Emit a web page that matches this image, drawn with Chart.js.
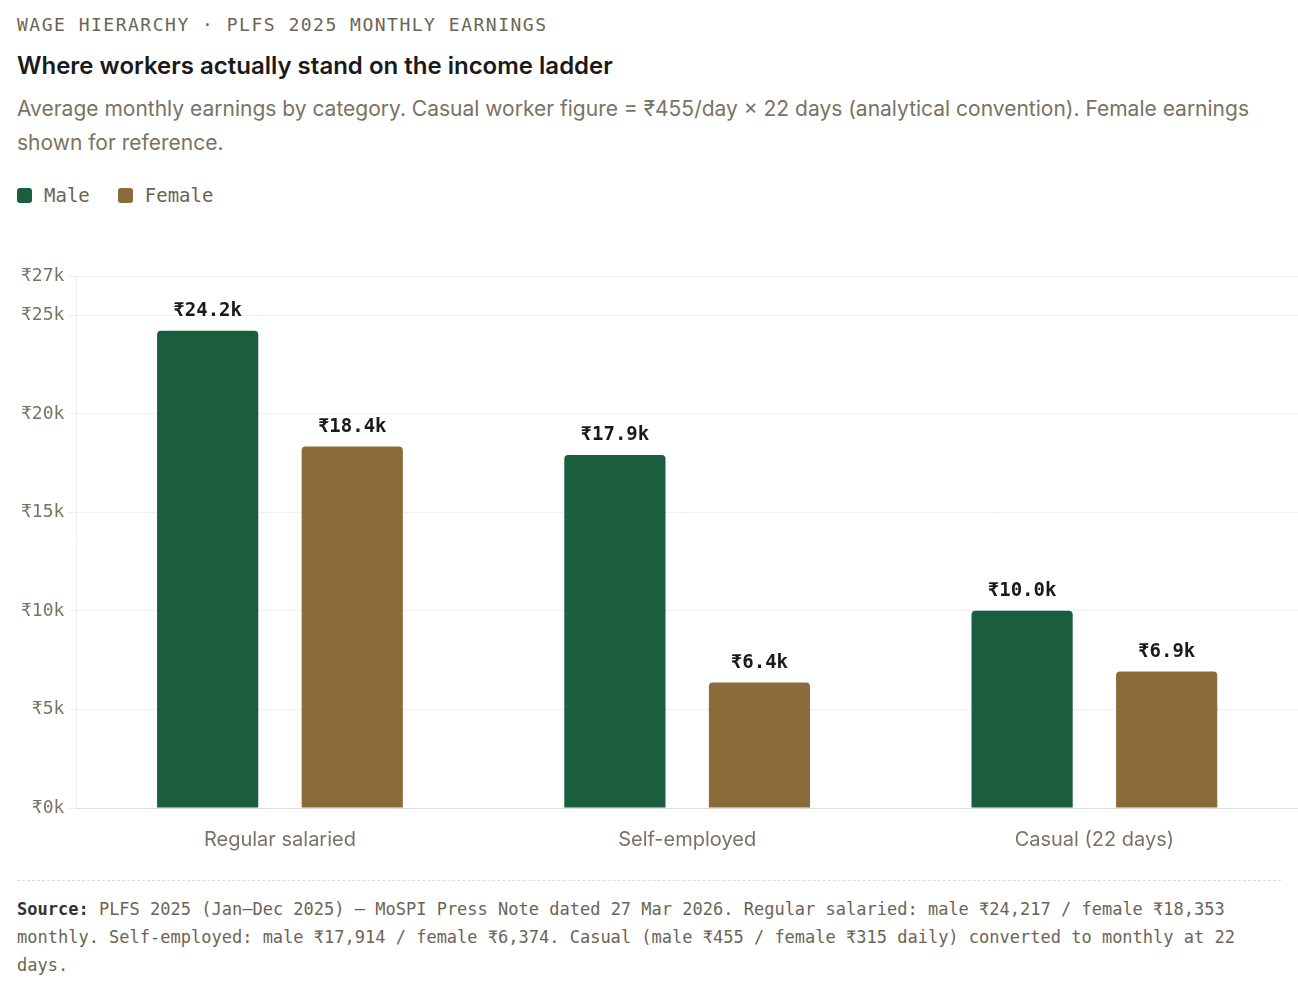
<!DOCTYPE html>
<html><head><meta charset="utf-8">
<script src="https://cdn.jsdelivr.net/npm/chart.js@4"></script>
<style>
body{margin:0;background:#fff;font-family:Inter,"Noto Sans",sans-serif;}
.wrap{padding:14px 17px 0 17px;width:1264px;}
.kicker{font-family:"DejaVu Sans Mono",monospace;font-size:18px;letter-spacing:1.5px;color:#6b6455;}
h1{font-size:24px;font-weight:600;color:#1a1a1a;margin:16px 0 12px 0;}
.sub{font-size:21px;color:#7a7263;line-height:34px;}
.legend{margin-top:24px;font-family:"DejaVu Sans Mono",monospace;font-size:19px;color:#6b6455;display:flex;gap:28px;}
.legend span i{display:inline-block;width:15px;height:15px;border-radius:3px;margin-right:12px;vertical-align:-1px;}
.box{position:relative;height:648px;margin-left:-17px;width:1298px;margin-top:10px;}
.src{border-top:1.5px dashed #ddd;margin-top:16px;padding-top:14px;font-family:"DejaVu Sans Mono",monospace;font-size:17px;line-height:28px;color:#6b6455;}
.src b{color:#333;}
</style></head><body>
<div class="wrap">
<div class="kicker">WAGE HIERARCHY · PLFS 2025 MONTHLY EARNINGS</div>
<h1>Where workers actually stand on the income ladder</h1>
<div class="sub">Average monthly earnings by category. Casual worker figure = ₹455/day × 22 days (analytical convention). Female earnings shown for reference.</div>
<div class="legend"><span><i style="background:#1b5e3f"></i>Male</span><span><i style="background:#8a6b39"></i>Female</span></div>
<div class="box"><canvas id="c"></canvas></div>
<div class="src"><b>Source:</b> PLFS 2025 (Jan–Dec 2025) — MoSPI Press Note dated 27 Mar 2026. Regular salaried: male ₹24,217 / female ₹18,353 monthly. Self-employed: male ₹17,914 / female ₹6,374. Casual (male ₹455 / female ₹315 daily) converted to monthly at 22 days.</div>
</div>
<script>
const categories = ['Regular salaried', 'Self-employed', 'Casual (22 days)'];
const male = [24217, 17914, 10010];
const female = [18353, 6374, 6930];
const yTicks = [0, 5000, 10000, 15000, 20000, 25000, 27000];

const labelPlugin = {
  id: 'barLabels',
  afterDatasetsDraw(chart) {
    const ctx = chart.ctx;
    ctx.save();
    ctx.font = 'bold 19px "DejaVu Sans Mono", monospace';
    ctx.fillStyle = '#1a1a1a';
    ctx.textAlign = 'center';
    ctx.textBaseline = 'bottom';
    chart.data.datasets.forEach((ds, i) => {
      chart.getDatasetMeta(i).data.forEach((bar, j) => {
        ctx.fillText('₹' + (ds.data[j] / 1000).toFixed(1) + 'k', bar.x, bar.y - 10);
      });
    });
    ctx.restore();
  }
};

new Chart(document.getElementById('c'), {
  type: 'bar',
  data: {
    labels: categories,
    datasets: [
      { label: 'Male', data: male, backgroundColor: '#1b5e3f', borderRadius: 4, borderSkipped: 'bottom' },
      { label: 'Female', data: female, backgroundColor: '#8a6b39', borderRadius: 4, borderSkipped: 'bottom' }
    ]
  },
  options: {
    responsive: true, maintainAspectRatio: false, animation: false,
    layout: { padding: { top: 60, right: 0, left: 17, bottom: 0 } },
    plugins: { legend: { display: false }, tooltip: { enabled: false } },
    datasets: { bar: { barPercentage: 0.7, categoryPercentage: 0.71 } },
    scales: {
      x: {
        grid: { display: false },
        border: { color: '#ddd' },
        ticks: { color: '#7a7263', font: { family: 'Inter', size: 20 }, padding: 12 }
      },
      y: {
        min: 0, max: 27000,
        afterBuildTicks: s => { s.ticks = yTicks.map(v => ({ value: v })); },
        grid: { color: '#eeeeee' },
        border: { color: '#eeeeee' },
        ticks: { color: '#7a7263', font: { family: '"DejaVu Sans Mono", monospace', size: 18 }, padding: 4,
          callback: v => '₹' + (v / 1000) + 'k' }
      }
    }
  },
  plugins: [labelPlugin]
});
</script>
</body></html>
